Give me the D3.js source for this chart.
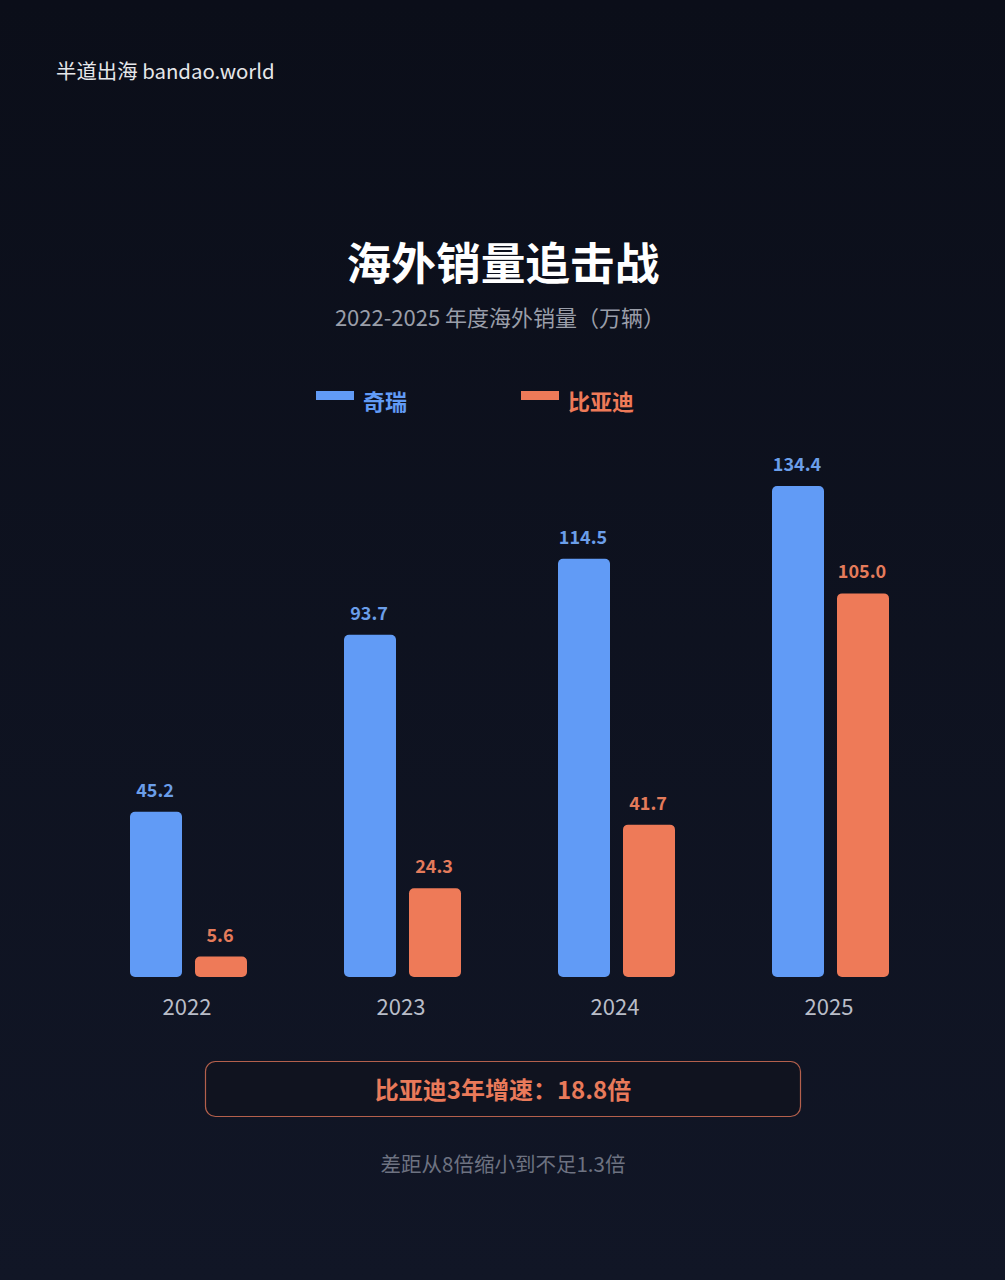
<!DOCTYPE html>
<html>
<head>
<meta charset="utf-8">
<script src="https://cdn.jsdelivr.net/npm/d3@7"></script>
<style>
html,body{margin:0;padding:0;background:#0c0f1a;}
svg{display:block;font-family:"Noto Sans CJK SC","Noto Sans",sans-serif;}
</style>
</head>
<body>
<svg id="chart" width="1005" height="1280"></svg>
<script>
const years = ["2022", "2023", "2024", "2025"];
const seriesNames = ["奇瑞", "比亚迪"];
const cheryValues = [45.2, 93.7, 114.5, 134.4];
const bydValues = [5.6, 24.3, 41.7, 105.0];
const seriesColors = ["#619bf6", "#ee7a58"];
const labelColors = ["#6b9ee9", "#e47b5b"];

const svg = d3.select("#chart");
const W = 1005, H = 1280;

const defs = svg.append("defs");
const bg = defs.append("linearGradient").attr("id", "bg").attr("x1", 0).attr("y1", 0).attr("x2", 0).attr("y2", 1);
bg.append("stop").attr("offset", "0%").attr("stop-color", "#0b0e19");
bg.append("stop").attr("offset", "100%").attr("stop-color", "#111626");
svg.append("rect").attr("width", W).attr("height", H).attr("fill", "url(#bg)");

// watermark
svg.append("text").attr("x", 56).attr("y", 79).attr("fill", "#e6e7ea")
  .attr("font-size", 20.4).text("半道出海 bandao.world");

// title
svg.append("text").attr("x", 503).attr("y", 280).attr("text-anchor", "middle")
  .attr("fill", "#ffffff").attr("font-size", 44.7).attr("font-weight", 700).text("海外销量追击战");
svg.append("text").attr("x", 500).attr("y", 326).attr("text-anchor", "middle")
  .attr("fill", "#9a9ea9").attr("font-size", 22).text("2022-2025 年度海外销量（万辆）");

// legend
const legendX = [316, 521];
seriesNames.forEach((s, i) => {
  svg.append("rect").attr("x", legendX[i]).attr("y", 391).attr("width", 38).attr("height", 9)
    .attr("fill", seriesColors[i]);
  svg.append("text").attr("x", legendX[i] + 47).attr("y", 410).attr("fill", seriesColors[i])
    .attr("font-size", 22).attr("font-weight", 700).text(s);
});

// scales
const baseY = 977;
const y = d3.scaleLinear().domain([0, 134.4]).range([baseY, 486]);
const x0 = d3.scaleBand().domain(years).range([81.5, 937.5]).padding(0);
const x1 = d3.scaleBand().domain(seriesNames).range([-58.5, 58.5]).paddingInner(0.2).paddingOuter(0);

const data = years.map((yr, i) => ({year: yr, values: [cheryValues[i], bydValues[i]]}));

const groups = svg.append("g").selectAll("g").data(data).join("g")
  .attr("transform", d => `translate(${x0(d.year) + x0.bandwidth() / 2},0)`);

groups.selectAll("rect").data(d => d.values.map((v, i) => ({v, s: seriesNames[i], i})))
  .join("rect")
  .attr("x", d => x1(d.s))
  .attr("width", x1.bandwidth())
  .attr("y", d => y(d.v))
  .attr("height", d => baseY - y(d.v))
  .attr("rx", 5)
  .attr("fill", d => seriesColors[d.i]);

groups.selectAll("text.val").data(d => d.values.map((v, i) => ({v, s: seriesNames[i], i})))
  .join("text").attr("class", "val")
  .attr("x", d => x1(d.s) + x1.bandwidth() / 2 - 1)
  .attr("y", d => y(d.v) - 15)
  .attr("text-anchor", "middle")
  .attr("fill", d => labelColors[d.i])
  .attr("font-size", 18).attr("font-weight", 700)
  .text(d => d.v.toFixed(1));

// x axis labels
const xAxis = d3.axisBottom(x0).tickSize(0).tickPadding(0);
const ax = svg.append("g").attr("transform", `translate(-1.5,${baseY + 19})`).call(xAxis);
ax.select(".domain").remove();
ax.selectAll("text").attr("fill", "#b9bdc8").attr("font-size", 22)
  .attr("font-family", "'Noto Sans CJK SC','Noto Sans',sans-serif").attr("dy", "0.85em");

// callout box
svg.append("rect").attr("x", 205.5).attr("y", 1061.5).attr("width", 595).attr("height", 55)
  .attr("rx", 10).attr("fill", "#10131f").attr("stroke", "#b4604c").attr("stroke-width", 1.2);
svg.append("text").attr("x", 503).attr("y", 1099).attr("text-anchor", "middle")
  .attr("fill", "#e97a5a").attr("font-size", 24).attr("font-weight", 700).text("比亚迪3年增速：18.8倍");

svg.append("text").attr("x", 503).attr("y", 1172).attr("text-anchor", "middle")
  .attr("fill", "#6d7281").attr("font-size", 20.5).text("差距从8倍缩小到不足1.3倍");
</script>
</body>
</html>
